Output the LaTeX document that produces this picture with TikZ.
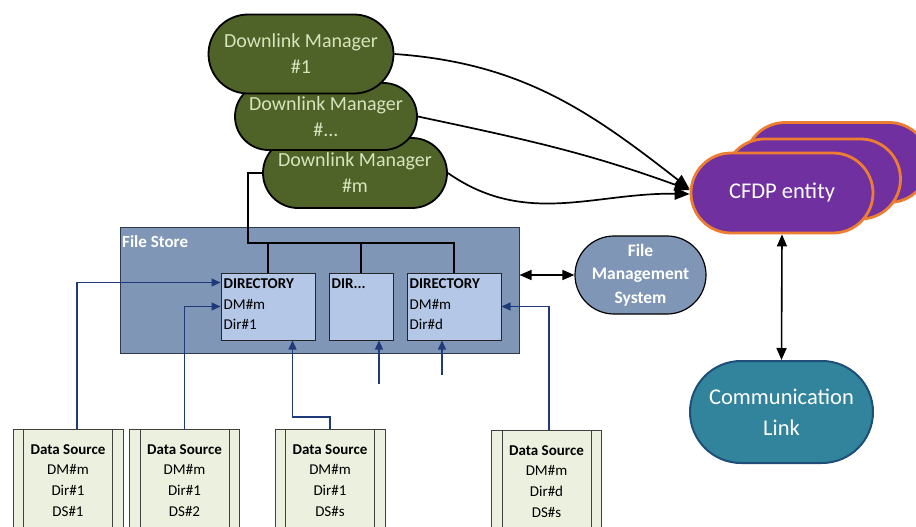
\documentclass[tikz,border=0pt]{standalone}
\usepackage{fontspec}
\setmainfont{Carlito}
\usetikzlibrary{arrows.meta,calc,shapes.misc}

\definecolor{dmgreen}{HTML}{4F6228}
\definecolor{dmtext}{HTML}{D7E4BD}
\definecolor{storeblue}{HTML}{7F96B6}
\definecolor{storeedge}{HTML}{2E3A4A}
\definecolor{dirblue}{HTML}{B4C7E7}
\definecolor{cfdppurple}{HTML}{7030A0}
\definecolor{cfdporange}{HTML}{ED7D31}
\definecolor{linkteal}{HTML}{31849B}
\definecolor{linkedge}{HTML}{1F4E79}
\definecolor{srcgreen}{HTML}{EBF1DE}
\definecolor{srcedge}{HTML}{404040}
\definecolor{navy}{HTML}{1F3A78}

\tikzset{
  pill/.style={rounded rectangle, inner sep=0pt},
  dmbox/.style={pill, fill=dmgreen, draw=black, line width=1.8pt, text=dmtext,
    align=center, font=\fontsize{20}{26}\selectfont},
  cfdpbox/.style={pill, fill=cfdppurple, draw=cfdporange, line width=2.8pt,
    minimum width=182pt, minimum height=80pt},
  dirbox/.style={rectangle, fill=dirblue, draw=black!85, line width=1pt, inner sep=0pt},
  dirtext/.style={anchor=north west, align=left, inner sep=0pt,
    font=\fontsize{15}{20.5}\selectfont},
  srcbox/.style={rectangle, fill=srcgreen, draw=srcedge, line width=0.9pt,
    minimum width=110pt, minimum height=130pt, anchor=north, inner sep=0pt},
  srctext/.style={anchor=north, align=center, inner sep=0pt,
    font=\fontsize{15}{20.7}\selectfont},
  feed/.style={draw=navy, line width=1.2pt, -{Triangle[length=9pt,width=8pt]}},
  bus/.style={draw=black, line width=1.6pt},
  flow/.style={draw=black, line width=1.7pt, -{Triangle[length=15pt,width=12pt]}},
  both/.style={draw=black, line width=1.6pt,
    {Triangle[length=12pt,width=10pt]}-{Triangle[length=12pt,width=10pt]}}
}

\begin{document}
\begin{tikzpicture}[x=1pt,y=-1pt]
\useasboundingbox (0,0) rectangle (916,527);
\clip (0,0) rectangle (916,527);

% file store with its directories
\node[rectangle, fill=storeblue, draw=storeedge, line width=1pt,
      minimum width=399pt, minimum height=126pt, inner sep=0pt] (fs) at (319.5,290) {};
\node[anchor=west, inner sep=0pt, text=white, font=\fontsize{17}{20}\selectfont\bfseries]
      (fslabel) at (122,242) {File Store};

\node[dirbox, minimum width=94pt, minimum height=67pt] (dir1) at (268,306.5) {};
\node[dirbox, minimum width=64pt, minimum height=67pt] (dirx) at (361,306.5) {};
\node[dirbox, minimum width=94pt, minimum height=67pt] (dird) at (454,306.5) {};
\node[dirtext] (dir1t) at ($(dir1.north west)+(3,6)$) {\textbf{DIRECTORY}\\DM\#m\\Dir\#1};
\node[dirtext] (dirxt) at ($(dirx.north west)+(3,6)$) {\textbf{DIR...}};
\node[dirtext] (dirdt) at ($(dird.north west)+(3,6)$) {\textbf{DIRECTORY}\\DM\#m\\Dir\#d};

% file management system
\node[pill, fill=storeblue, draw=black, line width=1.2pt, minimum width=131pt,
      minimum height=78pt, text=white, align=center,
      font=\fontsize{17.5}{23.5}\selectfont\bfseries] (fms) at (640.5,275)
      {File\\Management\\System};

% downlink managers, stacked back to front
\node[dmbox, minimum width=184pt, minimum height=70pt] (dmm) at (355,173) {Downlink Manager\\\#m};
\node[dmbox, minimum width=182pt, minimum height=67pt] (dmx) at (326,116.5) {Downlink Manager\\\#...};
\node[dmbox, minimum width=185pt, minimum height=79pt] (dm1) at (301,54) {Downlink Manager\\\#1};

% CFDP entities, stacked back to front
\node[cfdpbox, minimum width=184pt] (cfc) at (837,162.5) {};
\node[cfdpbox, minimum width=176pt] (cfb) at (812.5,179) {};
\node[cfdpbox, text=white, font=\fontsize{22.5}{27}\selectfont] (cf) at (782,193) {CFDP entity};

% communication link
\node[pill, fill=linkteal, draw=linkedge, line width=2pt, minimum width=183pt,
      minimum height=102pt, text=white, align=center,
      font=\fontsize{22.5}{31}\selectfont] (cl) at (781.5,412) {Communication\\Link};

% data sources
\foreach \n/\cx/\top/\dm/\dir/\ds in {1/68/429/m/1/1, 2/184.5/429/m/1/2, 3/330/429/m/1/s, 4/546.5/430/m/d/s}{
  \node[srcbox] (ds\n) at (\cx,\top) {};
  \draw[srcedge, line width=0.9pt] ($(ds\n.north west)+(11,0)$) -- ($(ds\n.south west)+(11,0)$)
    ($(ds\n.north east)+(-11,0)$) -- ($(ds\n.south east)+(-11,0)$);
  \node[srctext] (ds\n t) at ($(ds\n.north)+(0,15)$)
    {\textbf{Data Source}\\DM\#\dm\\Dir\#\dir\\DS\#\ds};
}

% directory bus from the last downlink manager
\coordinate (busl) at (248,243);
\draw[bus] (dmm.west) -| (busl) -| (dird.north);
\draw[bus] (busl -| dir1.north) -- (dir1.north);
\draw[bus] (busl -| dirx.north) -- (dirx.north);

% data source feeds into the directories
\coordinate (p1) at (77,429);
\coordinate (p4) at (549,430);
\coordinate (a1) at (379,384);
\coordinate (a2) at (442,375);
\draw[feed] (p1) |- ($(dir1.north west)+(0,10)$);
\draw[feed] (ds2.north) |- ($(dir1.north west)+(0,34)$);
\draw[feed] (ds3.north) -- ++(0,-12) -| ($(dir1.south east)+(-23,0)$);
\draw[feed] (a1) -- (a1 |- dirx.south);
\draw[feed] (a2) -- (a2 |- dird.south);
\draw[feed] (p4) |- ($(dird.north east)+(0,34)$);

% file store <-> file management system
\draw[both] (fms.west -| fs.east) -- (fms.west);

% downlink managers -> CFDP entity
\draw[flow] (dm1.east) to[out=-4,in=142] ($(cf.west)+(0,-4)$);
\draw[flow] (dmx.east) to[out=-12,in=160] ($(cf.west)+(0,-3)$);
\draw[flow] (dmm.east) to[out=-35,in=179] ($(cf.west)+(0,1)$);

% CFDP entity <-> communication link
\draw[both] (cf.south) -- (cl.north);
\end{tikzpicture}
\end{document}
